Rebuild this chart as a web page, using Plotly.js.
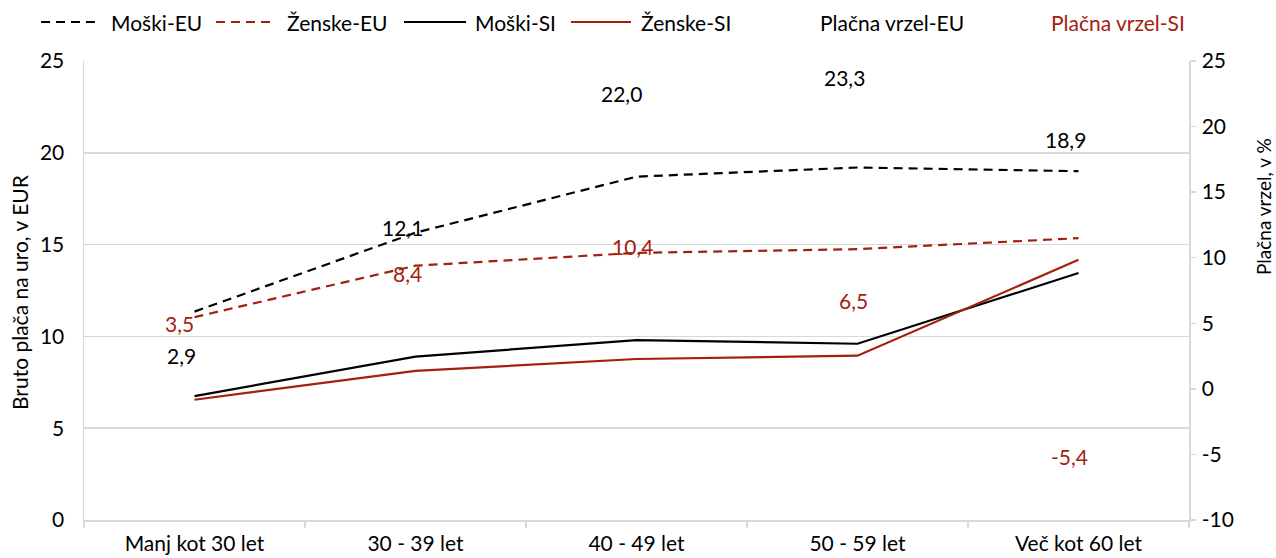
<!DOCTYPE html>
<html><head><meta charset="utf-8">
<script src="https://cdn.plot.ly/plotly-3.0.1.min.js"></script>
<style>html,body{margin:0;padding:0;background:#fff}</style>
</head><body><div id="chart" style="width:1276px;height:558px"></div>
<script>
// ---- data ----
const categories = ['Manj kot 30 let','30 - 39 let','40 - 49 let','50 - 59 let','Več kot 60 let'];
const moskiEU  = [11.35, 15.65, 18.7, 19.2, 19.0];
const zenskeEU = [11.05, 13.85, 14.55, 14.75, 15.35];
const moskiSI  = [6.75, 8.9, 9.8, 9.6, 13.45];
const zenskeSI = [6.55, 8.12, 8.77, 8.95, 14.17];
const vrzelEU  = [2.9, 12.1, 22.0, 23.3, 18.9];
const vrzelSI  = [3.5, 8.4, 10.4, 6.5, -5.4];
const leftTicks  = [0, 5, 10, 15, 20, 25];
const rightTicks = [-10, -5, 0, 5, 10, 15, 20, 25];
const seriesNames = ['Moški-EU','Ženske-EU','Moški-SI','Ženske-SI','Plačna vrzel-EU','Plačna vrzel-SI'];
const leftTitle = 'Bruto plača na uro, v EUR';
const rightTitle = 'Plačna vrzel, v %';

// ---- style ----
const RED = '#a3200e', BLACK = '#000000', GRID = '#d9d9d9';
const FONT = 'Lato, "Open Sans", sans-serif';
const FS = 21;
const DASH = '9px,6px';
const W = 1276, H = 558, L = 84, R = 1189, T = 61, B = 520;
const px = x => (x - L) / (R - L);
const py = y => (B - y) / (B - T);
const euShift = {x: [-13, -13, -15, -13, -13], y: [-5, 3, 7, 6, 2]};
const siShift = {x: [-15, -8, -4, -4, -9], y: [19, 5, 6, 3, 3]};
const fmt = v => v.toFixed(1).replace('.', ',');

const lineStyles = [
  {color: BLACK, dash: DASH}, {color: RED, dash: DASH},
  {color: BLACK, dash: 'solid'}, {color: RED, dash: 'solid'}
];
const lineData = [moskiEU, zenskeEU, moskiSI, zenskeSI];

const traces = lineData.map((d, i) => ({
  type: 'scatter', mode: 'lines', x: categories, y: d, name: seriesNames[i],
  line: {color: lineStyles[i].color, dash: lineStyles[i].dash, width: 2.2},
  showlegend: false, hoverinfo: 'skip'
}));
// invisible gap series on the secondary axis (values shown as labels)
traces.push({type: 'scatter', mode: 'markers', x: categories, y: vrzelEU, yaxis: 'y2',
  name: seriesNames[4], marker: {opacity: 0}, showlegend: false, hoverinfo: 'skip'});
traces.push({type: 'scatter', mode: 'markers', x: categories, y: vrzelSI, yaxis: 'y2',
  name: seriesNames[5], marker: {opacity: 0}, showlegend: false, hoverinfo: 'skip'});

const annotations = [];
vrzelEU.forEach((v, i) => annotations.push({
  x: categories[i], y: v, xref: 'x', yref: 'y2', text: fmt(v), showarrow: false,
  xanchor: 'center', yanchor: 'middle',
  xshift: euShift.x[i], yshift: euShift.y[i], font: {family: FONT, size: FS, color: BLACK}
}));
vrzelSI.forEach((v, i) => annotations.push({
  x: categories[i], y: v, xref: 'x', yref: 'y2', text: fmt(v), showarrow: false,
  xanchor: 'center', yanchor: 'middle',
  xshift: siShift.x[i], yshift: siShift.y[i], font: {family: FONT, size: FS, color: RED}
}));
// axis titles
annotations.push({xref: 'paper', yref: 'paper', x: px(19), y: py(292), text: leftTitle,
  xanchor: 'center', yanchor: 'middle',
  textangle: -90, showarrow: false, font: {family: FONT, size: FS, color: BLACK}});
annotations.push({xref: 'paper', yref: 'paper', x: px(1263), y: py(207), text: rightTitle,
  xanchor: 'center', yanchor: 'middle',
  textangle: -90, showarrow: false, font: {family: FONT, size: 19, color: BLACK}});

// legend (drawn manually)
const legendY = 22;
const legendItems = [
  {s: [41, 100], t: 111, style: lineStyles[0], name: seriesNames[0], tc: BLACK},
  {s: [216, 275], t: 287, style: lineStyles[1], name: seriesNames[1], tc: BLACK},
  {s: [404, 466], t: 475, style: lineStyles[2], name: seriesNames[2], tc: BLACK},
  {s: [571, 631], t: 641, style: lineStyles[3], name: seriesNames[3], tc: BLACK},
  {s: null, t: 820, name: seriesNames[4], tc: BLACK},
  {s: null, t: 1051, name: seriesNames[5], tc: RED}
];
const shapes = [];
legendItems.forEach(it => {
  if (it.s) shapes.push({type: 'line', xref: 'paper', yref: 'paper',
    x0: px(it.s[0]), x1: px(it.s[1]), y0: py(legendY), y1: py(legendY),
    line: {color: it.style.color, dash: it.style.dash, width: 2.2}});
  annotations.push({xref: 'paper', yref: 'paper', x: px(it.t), y: py(legendY),
    xanchor: 'left', yanchor: 'middle',
    text: it.name, showarrow: false, xshift: -2, font: {family: FONT, size: FS, color: it.tc}});
});

const layout = {
  width: W, height: H,
  margin: {l: L, r: W - R, t: T, b: H - B, pad: 0},
  paper_bgcolor: '#fff', plot_bgcolor: '#fff',
  font: {family: FONT, size: FS, color: BLACK},
  showlegend: false,
  xaxis: {type: 'category', range: [-0.5, categories.length - 0.5],
    tickson: 'boundaries', ticks: 'outside', ticklen: 6,
    tickcolor: GRID, tickwidth: 1.5, showline: true, linecolor: GRID, linewidth: 1.5,
    showgrid: false, zeroline: false, ticklabelstandoff: 4,
    tickfont: {family: FONT, size: FS, color: BLACK}},
  yaxis: {range: [0, 25], tickvals: leftTicks, ticktext: leftTicks.map(String),
    showgrid: true, gridcolor: GRID, gridwidth: 1.5, showline: true, linecolor: GRID, linewidth: 1.5,
    zeroline: false, ticks: '', ticklabelstandoff: 14,
    tickfont: {family: FONT, size: FS, color: BLACK}},
  yaxis2: {overlaying: 'y', side: 'right', range: [-10, 25], tickvals: rightTicks,
    ticktext: rightTicks.map(String), showgrid: false, zeroline: false,
    showline: true, linecolor: GRID, linewidth: 1.5, ticks: 'outside', ticklen: 5,
    tickcolor: GRID, tickwidth: 1.5, ticklabelstandoff: 2,
    tickfont: {family: FONT, size: FS, color: BLACK}},
  annotations, shapes
};

Plotly.newPlot('chart', traces, layout, {displayModeBar: false, staticPlot: true});
</script></body></html>
